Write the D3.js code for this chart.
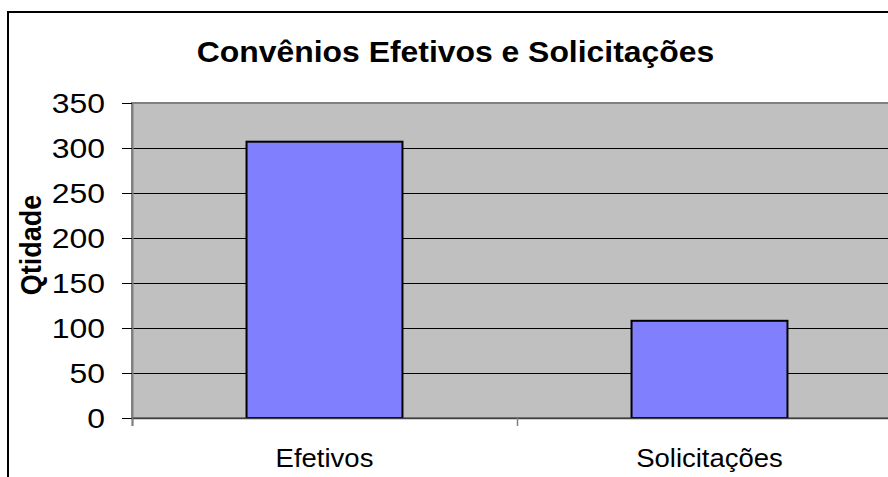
<!DOCTYPE html>
<html>
<head>
<meta charset="utf-8">
<script src="https://cdn.jsdelivr.net/npm/d3@7"></script>
<style>
  body { margin: 0; background: #fff; }
  text { font-family: Arial, "Liberation Sans", sans-serif; fill: #000; }
</style>
</head>
<body>
<div id="chart"></div>
<script>
// Chart data
var categories = ["Efetivos", "Solicitações"];
var values = [307, 108];
var yTicks = [0, 50, 100, 150, 200, 250, 300, 350];
var chartTitle = "Convênios Efetivos e Solicitações";
var yTitle = "Qtidade";

var width = 888, height = 477;
var plot = { left: 132, right: 902, top: 103, bottom: 418 };
var stretch = 1.1; // the original picture is stretched horizontally

var svg = d3.select("#chart").append("svg")
    .attr("width", width)
    .attr("height", height);

// Outer chart border (runs off the right and bottom edge)
svg.append("rect")
    .attr("x", 8).attr("y", 12)
    .attr("width", 1000).attr("height", 600)
    .attr("fill", "#fff")
    .attr("stroke", "#000")
    .attr("stroke-width", 2);

var x = d3.scaleBand()
    .domain(categories)
    .range([plot.left, plot.right])
    .paddingInner(0.595)
    .paddingOuter(0.2975);

var y = d3.scaleLinear()
    .domain([0, 350])
    .range([plot.bottom, plot.top]);

// Plot area background
svg.append("rect")
    .attr("x", plot.left).attr("y", plot.top)
    .attr("width", plot.right - plot.left)
    .attr("height", plot.bottom - plot.top)
    .attr("fill", "#c0c0c0")
    .attr("stroke", "#808080")
    .attr("stroke-width", 2);

// Gridlines
svg.selectAll(".grid")
    .data(yTicks.filter(function (d) { return d > 0 && d < 350; }))
    .enter().append("line")
    .attr("class", "grid")
    .attr("x1", plot.left).attr("x2", plot.right)
    .attr("y1", function (d) { return Math.round(y(d)) + 0.5; })
    .attr("y2", function (d) { return Math.round(y(d)) + 0.5; })
    .attr("stroke", "#000")
    .attr("stroke-width", 1);

// Bars
svg.selectAll(".bar")
    .data(values)
    .enter().append("rect")
    .attr("class", "bar")
    .attr("x", function (d, i) { return x(categories[i]); })
    .attr("y", function (d) { return y(d); })
    .attr("width", x.bandwidth())
    .attr("height", function (d) { return plot.bottom - y(d); })
    .attr("fill", "#8080ff")
    .attr("stroke", "#000")
    .attr("stroke-width", 2);

// Y axis line and ticks
svg.append("line")
    .attr("x1", plot.left + 0.5).attr("x2", plot.left + 0.5)
    .attr("y1", plot.top).attr("y2", plot.bottom + 8)
    .attr("stroke", "#808080").attr("stroke-width", 2);

svg.selectAll(".ytick")
    .data(yTicks)
    .enter().append("line")
    .attr("class", "ytick")
    .attr("x1", plot.left - 10).attr("x2", plot.left)
    .attr("y1", function (d) { return Math.round(y(d)) + 0.5; })
    .attr("y2", function (d) { return Math.round(y(d)) + 0.5; })
    .attr("stroke", "#000");

svg.selectAll(".ylabel")
    .data(yTicks)
    .enter().append("text")
    .attr("class", "ylabel")
    .attr("text-anchor", "end")
    .attr("font-size", 28)
    .attr("transform", function (d) {
        return "translate(105," + (y(d) + 10) + ") scale(1.14,1)";
    })
    .text(function (d) { return d; });

// X axis line and category dividers
svg.append("line")
    .attr("x1", plot.left).attr("x2", plot.right)
    .attr("y1", plot.bottom + 0.5).attr("y2", plot.bottom + 0.5)
    .attr("stroke", "#404040").attr("stroke-width", 1.5);

var step = x.step();
svg.selectAll(".xtick")
    .data(d3.range(categories.length + 1))
    .enter().append("line")
    .attr("class", "xtick")
    .attr("x1", function (i) { return plot.left + i * step + 0.5; })
    .attr("x2", function (i) { return plot.left + i * step + 0.5; })
    .attr("y1", plot.bottom).attr("y2", plot.bottom + 8)
    .attr("stroke", "#808080").attr("stroke-width", 1.5);

svg.selectAll(".xlabel")
    .data(categories)
    .enter().append("text")
    .attr("class", "xlabel")
    .attr("text-anchor", "middle")
    .attr("font-size", 25)
    .attr("transform", function (d) {
        return "translate(" + (x(d) + x.bandwidth() / 2) + ",467) scale(" + stretch + ",1)";
    })
    .text(function (d) { return d; });

// Titles
svg.append("text")
    .attr("text-anchor", "middle")
    .attr("font-size", 29)
    .attr("font-weight", "bold")
    .attr("transform", "translate(455.5,62) scale(" + stretch + ",1)")
    .text(chartTitle);

svg.append("text")
    .attr("text-anchor", "middle")
    .attr("font-size", 27)
    .attr("font-weight", "bold")
    .attr("transform", "translate(41,245) scale(" + stretch + ",1) rotate(-90)")
    .text(yTitle);
</script>
</body>
</html>
